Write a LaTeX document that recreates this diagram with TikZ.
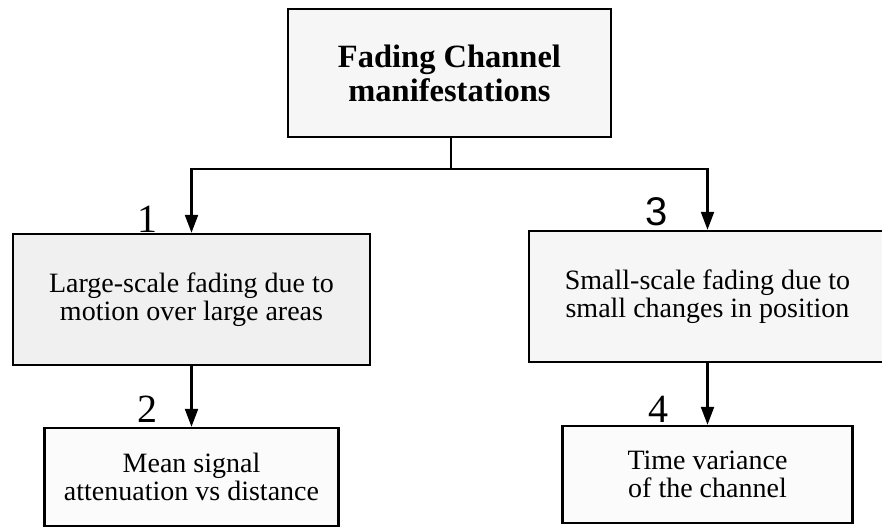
\documentclass[tikz,border=0pt]{standalone}
\usepackage{fontspec}
\setmainfont{Liberation Serif}
\newfontfamily\labsans{Liberation Sans}
\usetikzlibrary{arrows.meta}
\tikzset{
  x=1pt, y=-1pt,
  boxstyle/.style={draw=black, line width=2.4pt, rectangle, inner sep=0pt,
    align=center, font=\fontsize{28}{28.5}\selectfont},
  titlestyle/.style={boxstyle, font=\fontsize{32.5}{34}\selectfont\bfseries},
  numstyle/.style={inner sep=0pt, font=\fontsize{40}{40}\selectfont},
  conn/.style={line width=2.2pt},
  arr/.style={conn, -{Triangle[length=18pt,width=13pt]}}
}
\begin{document}
\begin{tikzpicture}
\useasboundingbox (0,0) rectangle (882,527);
\clip (0,0) rectangle (882,527);
\node[titlestyle, fill=gray!7, minimum width=323pt, minimum height=128pt] (top) at (449.5,73) {Fading Channel\\manifestations};
\node[boxstyle, fill=gray!12, minimum width=357pt, minimum height=131pt] (b1) at (191.5,299.5) {Large-scale fading due to\\motion over large areas};
\node[boxstyle, fill=gray!7, minimum width=357pt, minimum height=131pt] (b3) at (707.5,296.5) {Small-scale fading due to\\small changes in position};
\node[boxstyle, fill=gray!3, minimum width=294pt, minimum height=98pt] (b2) at (191.5,477) {Mean signal\\attenuation vs distance};
\node[boxstyle, fill=gray!3, minimum width=290pt, minimum height=97pt] (b4) at (707.5,474.5) {Time variance\\of the channel};
\node[numstyle] (n1) at (147,219) {1};
\node[numstyle] (n3) at (657,212) {\labsans 3};
\node[numstyle] (n2) at (147,409) {2};
\node[numstyle] (n4) at (658,409) {4};
\coordinate (j) at (451,169);
\draw[conn] (top.south -| j) -- (j);
\draw[arr] (j) -| (b1.north);
\draw[arr] (j) -| (b3.north);
\draw[arr] (b1.south) -- (b2.north);
\draw[arr] (b3.south) -- (b4.north);
\end{tikzpicture}
\end{document}
